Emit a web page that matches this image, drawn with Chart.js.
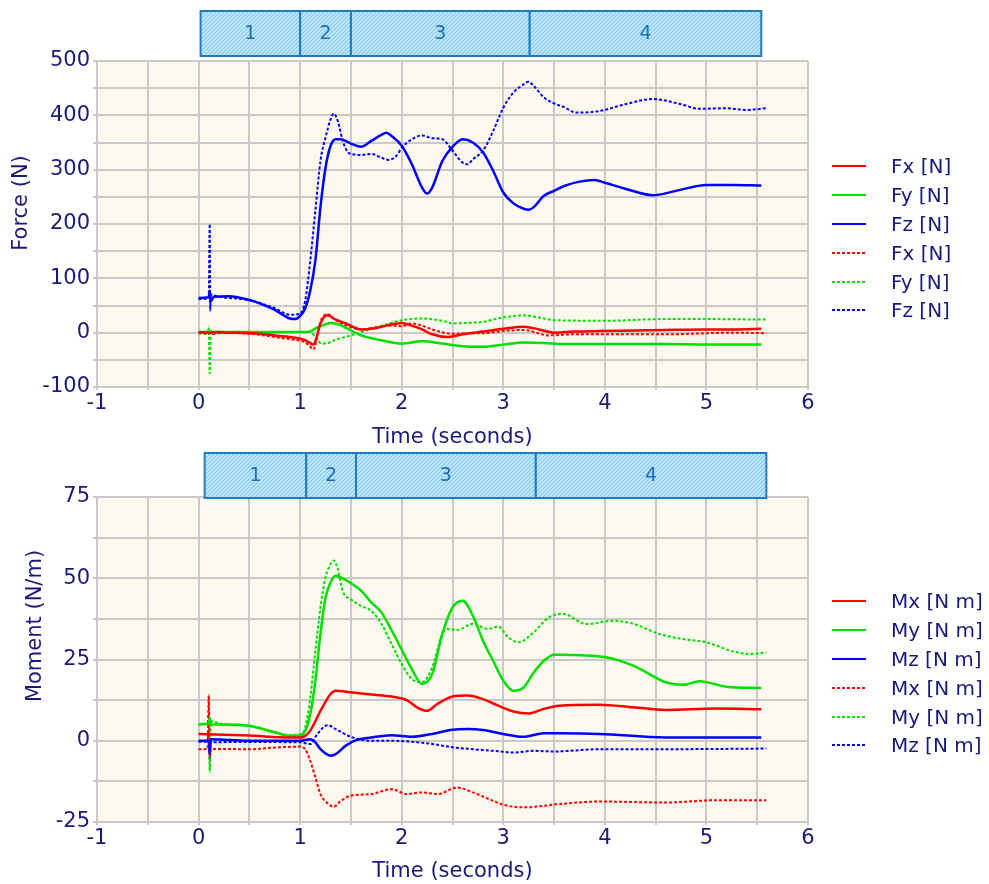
<!DOCTYPE html>
<html lang="en">
<head>
  <meta charset="UTF-8" />
  <title>Force and moment vs time</title>
  <script src="https://cdn.jsdelivr.net/npm/chart.js"></script>
  <style>
    body { margin: 0; background: #fff; width: 989px; height: 884px; position: relative; overflow: hidden; font-family: "DejaVu Sans", sans-serif; }
    .panel { position: absolute; left: 0; width: 989px; }
    .legend { position: absolute; left: 832px; color: #1a1a7a; font-size: 20px; }
    .legend .row { height: 28.8px; display: flex; align-items: center; white-space: nowrap; }
    .legend svg { margin-right: 25px; }
  </style>
</head>
<body>
  <div class="panel" style="top:0;height:448px">
    <canvas id="forceChart" width="989" height="448"></canvas>
    <div class="legend" id="forceLegend" style="top:152px"></div>
  </div>
  <div class="panel" style="top:448px;height:436px">
    <canvas id="momentChart" width="989" height="436"></canvas>
    <div class="legend" id="momentLegend" style="top:139px"></div>
  </div>

  <script>
    // phases (seconds)
    const phaseLabels = ['1', '2', '3', '4'];
    const forcePhaseEdges = [0.02, 1.0, 1.5, 3.26, 5.54];
    const momentPhaseEdges = [0.06, 1.06, 1.55, 3.32, 5.59];

    // force series [time s, N]
    const fxSolid = [[0,1],[0.1,0],[0.2,1],[0.3,0],[0.4,0],[0.5,-1],[0.6,-2],[0.75,-5],[0.9,-8],[1.0,-11],[1.05,-14],[1.1,-19],[1.13,-22],[1.16,-10],[1.2,17],[1.27,32],[1.35,24],[1.45,17],[1.6,6],[1.7,7],[1.85,13],[2.0,18],[2.1,13],[2.2,6],[2.3,-3],[2.45,-8],[2.6,-3],[2.8,2],[3.0,7],[3.2,11],[3.35,6],[3.5,0],[3.7,2],[3.95,3],[4.3,4],[4.6,5],[5.0,6],[5.3,6],[5.54,7]];
    const fySolid = [[0,1],[0.5,1],[1.0,1],[1.1,2],[1.15,8],[1.2,12],[1.3,18],[1.4,14],[1.5,4],[1.6,-5],[1.8,-14],[2.0,-20],[2.2,-16],[2.4,-20],[2.6,-25],[2.8,-26],[3.0,-22],[3.2,-18],[3.4,-19],[3.6,-21],[4.0,-21],[4.6,-21],[5.0,-22],[5.54,-22]];
    const fzSolid = [[0,64],[0.1,65],[0.11,75],[0.12,58],[0.15,66],[0.3,67],[0.5,60],[0.6,54],[0.75,42],[0.9,26],[0.95,25],[1.0,31],[1.05,45],[1.1,78],[1.15,133],[1.2,231],[1.25,304],[1.3,344],[1.35,356],[1.4,356],[1.5,348],[1.6,342],[1.7,353],[1.8,364],[1.85,368],[1.9,362],[2.0,344],[2.1,310],[2.2,267],[2.25,256],[2.3,267],[2.4,316],[2.5,342],[2.6,356],[2.7,350],[2.8,332],[2.9,298],[3.0,258],[3.1,238],[3.2,228],[3.25,226],[3.3,231],[3.4,252],[3.5,261],[3.6,270],[3.75,278],[3.9,281],[4.0,276],[4.2,265],[4.47,253],[4.7,261],[5.0,272],[5.26,272],[5.54,271]];
    const fxDash = [[0,0],[0.1,-2],[0.11,5],[0.12,-3],[0.2,0],[0.4,-1],[0.5,-2],[0.6,-4],[0.75,-8],[0.9,-12],[1.0,-15],[1.05,-18],[1.1,-26],[1.13,-31],[1.16,-15],[1.2,20],[1.27,34],[1.35,23],[1.5,10],[1.6,6],[1.75,10],[1.9,13],[2.0,12],[2.1,17],[2.2,13],[2.3,6],[2.5,-2],[2.65,-1],[2.8,-1],[3.0,3],[3.2,5],[3.45,-5],[3.7,-3],[4.0,-3],[4.6,-3],[5.26,0],[5.59,-1]];
    const fyDash = [[0,-2],[0.09,-1],[0.1,10],[0.11,-75],[0.12,5],[0.13,-2],[0.3,0],[0.5,0],[0.8,1],[1.0,1],[1.1,1],[1.15,-8],[1.2,-19],[1.25,-20],[1.35,-13],[1.5,-5],[1.6,1],[1.75,10],[1.9,18],[2.0,23],[2.2,26],[2.4,22],[2.5,17],[2.65,18],[2.8,20],[3.0,28],[3.2,32],[3.35,28],[3.5,23],[4.0,22],[4.6,25],[5.0,25],[5.59,24]];
    const fzDash = [[0,62],[0.1,64],[0.11,200],[0.115,41],[0.12,70],[0.2,66],[0.5,60],[0.75,45],[0.9,33],[1.0,35],[1.05,59],[1.1,133],[1.15,225],[1.2,316],[1.25,359],[1.3,393],[1.33,403],[1.37,390],[1.42,353],[1.47,332],[1.5,329],[1.6,327],[1.7,329],[1.8,322],[1.87,318],[1.95,326],[2.0,340],[2.1,356],[2.2,363],[2.3,358],[2.4,356],[2.5,335],[2.6,313],[2.65,310],[2.7,319],[2.8,335],[2.9,371],[3.0,414],[3.1,442],[3.2,457],[3.25,462],[3.3,454],[3.4,433],[3.5,422],[3.6,415],[3.72,405],[3.95,408],[4.21,421],[4.47,430],[4.74,421],[4.93,412],[5.2,413],[5.39,410],[5.59,413]];

    // moment series [time s, N m]
    const mxSolid = [[0,2.1],[0.5,1.6],[0.9,1],[1.0,1],[1.05,1.5],[1.1,3.1],[1.2,9.2],[1.3,14.4],[1.35,15.4],[1.5,14.9],[1.7,14.2],[1.9,13.6],[2.05,12.5],[2.15,10.3],[2.25,9.2],[2.35,11.3],[2.5,13.6],[2.65,13.9],[2.8,12.8],[2.95,10.8],[3.1,9],[3.25,8.4],[3.4,9.8],[3.55,10.8],[3.95,11.1],[4.28,10.3],[4.6,9.5],[5.1,9.9],[5.54,9.7]];
    const mySolid = [[0,5.1],[0.1,5.3],[0.11,7],[0.12,5],[0.25,5],[0.5,4.6],[0.75,2.6],[0.9,1.5],[1.0,1.7],[1.05,3],[1.1,8.2],[1.15,18.5],[1.2,32.9],[1.25,44],[1.3,48.8],[1.35,50.8],[1.4,50.3],[1.5,48.5],[1.6,46.2],[1.7,42.6],[1.8,39.5],[1.9,34],[2.0,28],[2.1,22],[2.2,17.5],[2.3,20.5],[2.4,32.9],[2.5,41],[2.6,43.1],[2.7,38.5],[2.8,30.8],[2.9,24.6],[3.0,18.5],[3.1,15.4],[3.2,16.4],[3.3,21],[3.4,24.6],[3.5,26.5],[3.55,26.5],[4.01,25.7],[4.28,23.1],[4.6,18],[4.77,17.2],[4.93,18.3],[5.2,16.6],[5.54,16.2]];
    const mzSolid = [[0,0],[0.1,0],[0.11,-4],[0.12,0.5],[0.5,0],[1.0,0],[1.1,0.5],[1.15,-0.5],[1.2,-2.6],[1.3,-4.6],[1.35,-4.1],[1.45,-1.5],[1.55,0.2],[1.7,1],[1.9,1.7],[2.1,1.2],[2.3,2.1],[2.5,3.4],[2.65,3.6],[2.8,3.3],[3.0,2.1],[3.2,1.2],[3.4,2.3],[3.55,2.3],[3.95,2.1],[4.6,1],[5.54,1]];
    const mxDash = [[0,-2.6],[0.09,-2.5],[0.1,14],[0.11,-5],[0.12,-2.5],[0.5,-2.6],[0.8,-2],[1.0,-1.8],[1.05,-2.6],[1.1,-6.2],[1.15,-11.3],[1.2,-16.4],[1.28,-19.5],[1.33,-20.3],[1.4,-18.5],[1.5,-16.9],[1.7,-16.4],[1.9,-14.9],[2.05,-16.4],[2.2,-15.9],[2.35,-16.4],[2.55,-14.4],[2.7,-15.9],[2.9,-18.5],[3.0,-19.7],[3.2,-20.5],[3.4,-20],[3.55,-19.5],[3.95,-18.7],[4.6,-19],[5.1,-18.3],[5.59,-18.3]];
    const myDash = [[0,5],[0.09,5.2],[0.1,8],[0.11,-9.5],[0.12,6],[0.25,5],[0.5,4.5],[0.75,2.5],[0.9,1.8],[1.0,2],[1.05,4.1],[1.1,13.4],[1.15,27.7],[1.2,41],[1.25,50.3],[1.3,54.4],[1.33,55.5],[1.37,52.9],[1.42,46],[1.5,43.5],[1.6,41.5],[1.7,40],[1.8,36],[1.9,29.8],[2.0,23.6],[2.1,19],[2.2,18],[2.3,22.6],[2.4,32.9],[2.45,34.4],[2.55,34.1],[2.7,36],[2.85,34.4],[2.95,35.1],[3.05,31.8],[3.15,30.3],[3.3,33.4],[3.45,38],[3.59,39],[3.82,35.9],[4.08,36.9],[4.28,36],[4.54,32.8],[4.77,31.3],[5.0,30.3],[5.26,27.5],[5.43,26.7],[5.59,27.2]];
    const mzDash = [[0,-0.3],[0.09,-0.3],[0.1,3],[0.11,-6],[0.12,-0.5],[0.5,-0.4],[1.0,-0.5],[1.1,-1],[1.17,2.1],[1.27,4.8],[1.35,3.6],[1.5,1.2],[1.7,0],[1.9,0],[2.1,-0.3],[2.3,-1],[2.5,-2],[2.7,-2.6],[2.9,-3.1],[3.1,-3.6],[3.3,-3.1],[3.5,-3.3],[3.95,-2.6],[4.6,-2.6],[5.59,-2.4]];

    const forceLabels = ['Fx [N]', 'Fy [N]', 'Fz [N]', 'Fx [N]', 'Fy [N]', 'Fz [N]'];
    const momentLabels = ['Mx [N m]', 'My [N m]', 'Mz [N m]', 'Mx [N m]', 'My [N m]', 'Mz [N m]'];
    const colors = ['#ff0000', '#00e000', '#0000ff'];
    const navy = '#1a1a7a';
    const grid = '#c9c9c9';

    const toPts = arr => arr.map(p => ({ x: p[0], y: p[1] }));

    function makeDatasets(labels, series) {
      return series.map((s, i) => ({
        label: labels[i],
        data: toPts(s),
        borderColor: colors[i % 3],
        borderWidth: i < 3 ? 2.5 : 2,
        borderDash: i < 3 ? [] : [3, 2],
        pointRadius: 0,
        cubicInterpolationMode: 'monotone',
        fill: false
      }));
    }

    function hatchPattern(ctx) {
      const c = document.createElement('canvas');
      c.width = 4; c.height = 4;
      const g = c.getContext('2d');
      g.fillStyle = '#c3e8f9';
      g.fillRect(0, 0, 4, 4);
      g.strokeStyle = '#86cbee';
      g.lineWidth = 1.2;
      g.beginPath();
      g.moveTo(0, 4); g.lineTo(4, 0);
      g.moveTo(-1, 1); g.lineTo(1, -1);
      g.moveTo(3, 5); g.lineTo(5, 3);
      g.stroke();
      return ctx.createPattern(c, 'repeat');
    }

    // cream plot area
    const plotBg = {
      id: 'plotBg',
      beforeDraw(chart) {
        const { ctx, chartArea: a } = chart;
        ctx.save();
        ctx.fillStyle = '#fdf9ee';
        ctx.fillRect(a.left, a.top, a.right - a.left, a.bottom - a.top);
        ctx.restore();
      }
    };

    // phase boxes above the plot
    const phaseBoxes = {
      id: 'phaseBoxes',
      afterDraw(chart, args, opts) {
        const { ctx, chartArea: a } = chart;
        const xs = chart.scales.x;
        const top = a.top + opts.offset;
        const h = opts.height;
        ctx.save();
        ctx.fillStyle = hatchPattern(ctx);
        ctx.strokeStyle = '#1f7bc2';
        ctx.lineWidth = 2;
        ctx.font = '19px "DejaVu Sans"';
        ctx.textAlign = 'center';
        ctx.textBaseline = 'middle';
        for (let i = 0; i < opts.labels.length; i++) {
          const x0 = xs.getPixelForValue(opts.edges[i]);
          const x1 = xs.getPixelForValue(opts.edges[i + 1]);
          ctx.fillRect(x0, top, x1 - x0, h);
          ctx.strokeRect(x0, top, x1 - x0, h);
        }
        ctx.fillStyle = '#1f6fb6';
        for (let i = 0; i < opts.labels.length; i++) {
          const x0 = xs.getPixelForValue(opts.edges[i]);
          const x1 = xs.getPixelForValue(opts.edges[i + 1]);
          ctx.fillText(opts.labels[i], (x0 + x1) / 2, top + h / 2 + 1);
        }
        ctx.restore();
      }
    };

    // rotated y title
    const yTitle = {
      id: 'yTitle',
      afterDraw(chart, args, opts) {
        const ctx = chart.ctx;
        ctx.save();
        ctx.translate(opts.x, opts.y);
        ctx.rotate(-Math.PI / 2);
        ctx.font = '21px "DejaVu Sans"';
        ctx.fillStyle = navy;
        ctx.textAlign = 'center';
        ctx.textBaseline = 'middle';
        ctx.fillText(opts.text, 0, 0);
        ctx.restore();
      }
    };

    function makeChart(id, cfg) {
      const tickFont = { family: 'DejaVu Sans', size: 21 };
      return new Chart(document.getElementById(id), {
        type: 'line',
        data: { datasets: makeDatasets(cfg.labels, cfg.series) },
        plugins: [plotBg, phaseBoxes, yTitle],
        options: {
          responsive: false,
          animation: false,
          layout: { padding: { top: cfg.padTop, right: 181, left: 0, bottom: 0 } },
          plugins: {
            legend: { display: false },
            tooltip: { enabled: false },
            phaseBoxes: { edges: cfg.edges, labels: phaseLabels, offset: cfg.boxOffset, height: 45 },
            yTitle: { text: cfg.yTitle, x: cfg.yTitleX, y: cfg.yTitleY }
          },
          scales: {
            x: {
              type: 'linear', min: -1, max: 6,
              afterFit: s => { s.height = cfg.xHeight; },
              ticks: {
                stepSize: 0.5, autoSkip: false, maxRotation: 0, padding: 1,
                color: navy, font: tickFont,
                callback: v => Number.isInteger(v) ? v : ''
              },
              grid: { color: grid, lineWidth: 2, tickLength: 3, tickColor: grid },
              border: { color: grid, width: 2 },
              title: {
                display: true, text: 'Time (seconds)', color: navy,
                font: { family: 'DejaVu Sans', size: 21, lineHeight: 1 },
                padding: { top: 0, bottom: cfg.xTitlePad }
              }
            },
            y: {
              min: cfg.yMin, max: cfg.yMax,
              afterFit: s => { s.width = 97; },
              ticks: {
                stepSize: cfg.yStep, autoSkip: false, padding: 3,
                color: navy, font: tickFont,
                callback: v => (v % cfg.yLabelEvery === 0) ? v : ''
              },
              grid: { color: grid, lineWidth: 2, tickLength: 4, tickColor: grid },
              border: { color: grid, width: 2 }
            }
          }
        }
      });
    }

    function buildLegend(elId, labels) {
      const el = document.getElementById(elId);
      labels.forEach((lab, i) => {
        const dash = i < 3 ? '' : 'stroke-dasharray="3 2"';
        const row = document.createElement('div');
        row.className = 'row';
        row.innerHTML = `<svg width="34" height="4"><line x1="0" y1="2" x2="34" y2="2" stroke="${colors[i % 3]}" stroke-width="2" ${dash}/></svg><span>${lab}</span>`;
        el.appendChild(row);
      });
    }

    makeChart('forceChart', {
      labels: forceLabels,
      series: [fxSolid, fySolid, fzSolid, fxDash, fyDash, fzDash],
      edges: forcePhaseEdges,
      padTop: 61, boxOffset: -50, xHeight: 61, xTitlePad: 0,
      yMin: -100, yMax: 500, yStep: 50, yLabelEvery: 100,
      yTitle: 'Force (N)', yTitleX: 22, yTitleY: 203
    });

    makeChart('momentChart', {
      labels: momentLabels,
      series: [mxSolid, mySolid, mzSolid, mxDash, myDash, mzDash],
      edges: momentPhaseEdges,
      padTop: 49, boxOffset: -44, xHeight: 62, xTitlePad: 2,
      yMin: -25, yMax: 75, yStep: 12.5, yLabelEvery: 25,
      yTitle: 'Moment (N/m)', yTitleX: 36, yTitleY: 178
    });

    buildLegend('forceLegend', forceLabels);
    buildLegend('momentLegend', momentLabels);
  </script>
</body>
</html>
